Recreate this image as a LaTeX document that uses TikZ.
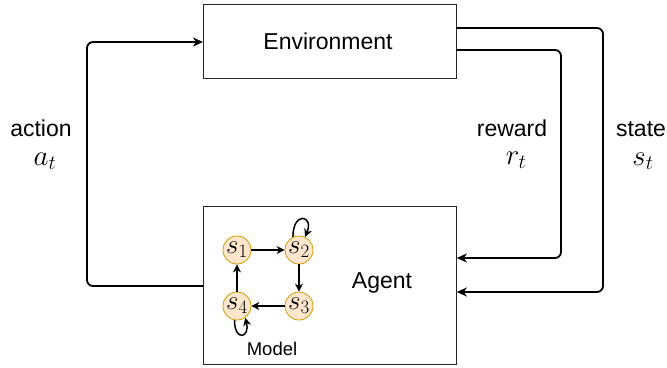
\documentclass[tikz,border=0pt]{standalone}
\usepackage{fix-cm}
\usepackage{fontspec}
\setmainfont{Liberation Sans}
\usetikzlibrary{arrows.meta}
\definecolor{stfill}{HTML}{FFE6CC}
\definecolor{stdraw}{HTML}{D79B00}
\tikzset{
  box/.style={draw=black!85, line width=0.8pt, fill=white, minimum width=253pt, inner sep=0pt},
  flow/.style={line width=1.8pt, rounded corners=6pt, -{Stealth[length=10pt,width=9pt,inset=3pt]}},
  small/.style={line width=1.5pt, -{Stealth[length=8pt,width=8pt,inset=2.5pt]}},
  st/.style={circle, draw=stdraw, fill=stfill, line width=0.8pt, minimum size=28pt, inner sep=0pt, font=\fontsize{27}{27}\selectfont},
  lbl/.style={font=\fontsize{23}{27}\selectfont, anchor=base, inner sep=0pt},
  mlbl/.style={font=\fontsize{29}{32}\selectfont, anchor=base, inner sep=0pt},
}
\begin{document}
\begin{tikzpicture}[x=1pt,y=-1pt]
\useasboundingbox (0,0) rectangle (667,367);
\node[box, minimum height=74pt, anchor=north west] (env) at (203,4) {};
\node[lbl] (envt) at (328,49) {Environment};
\node[box, minimum height=158pt, anchor=north west] (agent) at (203,206) {};
\node[lbl] (agentt) at (382,288) {Agent};
\node[font=\fontsize{18.5}{18.5}\selectfont, anchor=base, inner sep=0pt] (model) at (272,355) {Model};
% states
\node[st] (s1) at (237,250) {$s_1$};
\node[st] (s2) at (299,250) {$s_2$};
\node[st] (s3) at (299,306) {$s_3$};
\node[st] (s4) at (237,306) {$s_4$};
\draw[small] (s1) -- (s2);
\draw[small] (s2) -- (s3);
\draw[small] (s3) -- (s4);
\draw[small] (s4) -- (s1);
\draw[small] (s2.115) .. controls +(0,-26) and +(9,-22) .. (s2.65);
\draw[small] (s4.-100) .. controls +(0,22) and +(5,20) .. (s4.-55);
% main loop
\coordinate (aL) at (87,286);
\coordinate (aT) at (87,42);
\draw[flow] (agent.west |- 0,286) -- (aL) -- (aT) -- (env.west |- 0,42);
\draw[flow] (env.east |- 0,50) -- (561,50) -- (561,258) -- (agent.east |- 0,258);
\draw[flow] (env.east |- 0,28) -- (603,28) -- (603,292) -- (agent.east |- 0,292);
% labels
\node[lbl] (act) at (41,136) {action};
\node[mlbl] (at) at (45,165) {$a_t$};
\node[lbl] (rew) at (512,136) {reward};
\node[mlbl] (rt) at (516,164) {$r_t$};
\node[lbl] (sta) at (641,136) {state};
\node[mlbl] (stt) at (643,165) {$s_t$};
\end{tikzpicture}
\end{document}
